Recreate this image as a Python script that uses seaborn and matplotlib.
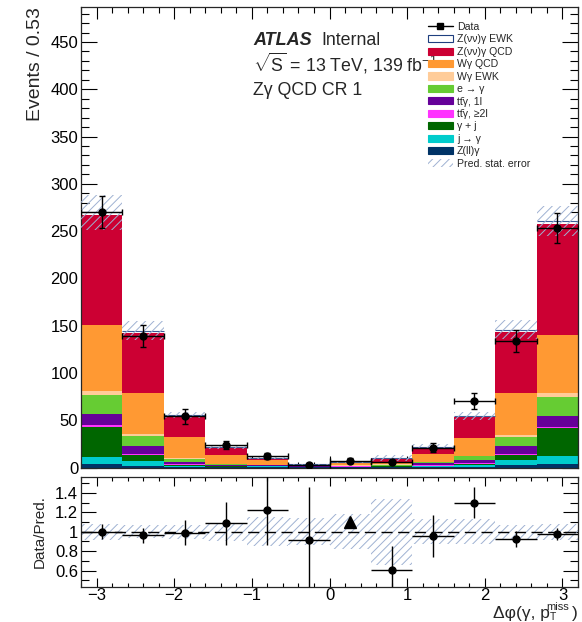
import numpy as np
import pandas as pd
import matplotlib
matplotlib.use("Agg")
import matplotlib.pyplot as plt
from matplotlib.patches import Patch
from matplotlib.lines import Line2D
from matplotlib.ticker import MultipleLocator, FixedLocator, FuncFormatter
import seaborn as sns

# ---------------- data ----------------
bin_edges = [-3.2, -2.6667, -2.1333, -1.6, -1.0667, -0.5333, 0.0,
             0.5333, 1.0667, 1.6, 2.1333, 2.6667, 3.2]

zvv_ewk = [2.8, 2.1, 1.0, 0.3, 0.0, 0.0, 0.2, 0.2, 0.5, 0.8, 2.1, 3.9]
zvv_qcd = [116.3, 64.1, 22.6, 8.2, 1.9, 0.4, 1.3, 3.3, 7.2, 22.9, 65.2, 117.0]
wg_qcd = [69.7, 43.0, 21.9, 9.3, 5.0, 1.0, 2.5, 3.0, 8.2, 18.5, 44.0, 61.6]
wg_ewk = [4.6, 2.1, 0.5, 0.3, 0.2, 0.1, 0.2, 0.2, 0.3, 0.5, 2.5, 4.2]
e_to_g = [19.7, 10.6, 3.5, 1.0, 0.5, 0.3, 0.4, 1.0, 1.5, 4.0, 9.2, 19.7]
ttg_1l = [11.7, 8.4, 2.2, 1.2, 0.8, 0.6, 0.6, 0.6, 1.8, 3.5, 8.4, 11.3]
ttg_2l = [2.4, 1.1, 0.8, 0.3, 0.2, 0.2, 0.2, 0.2, 0.4, 0.5, 1.4, 1.8]
g_jet = [31.0, 6.3, 1.0, 0.5, 0.3, 0.2, 0.3, 0.4, 0.8, 1.5, 5.0, 28.9]
j_to_g = [8.2, 4.9, 1.2, 0.5, 0.8, 0.3, 0.4, 0.6, 0.8, 1.5, 4.9, 9.2]
zllg = [3.3, 2.0, 0.8, 0.4, 0.3, 0.2, 0.2, 0.3, 0.5, 0.8, 3.0, 3.3]

data = [270, 139, 54, 24, 12, 3, 7, 6, 21, 70, 134, 253]
data_err = [17, 12, 7.5, 4.5, 3.4, 1.7, 2.6, 2.4, 4.4, 8.5, 11.5, 16]
stat_err = [19, 10, 3, 2, 1.5, 0.5, 1.1, 3.3, 2.8, 4.5, 10, 16]

ratio = [1.0, 0.962, 0.99, 1.086, 1.223, 0.914, 1.10, 0.605, 0.955, 1.30, 0.924, 0.976]
ratio_err = [0.075, 0.08, 0.13, 0.22, 0.36, 0.55, 0.0, 0.25, 0.22, 0.16, 0.08, 0.06]
ratio_band = [0.08, 0.065, 0.07, 0.095, 0.15, 0.14, 0.18, 0.34, 0.13, 0.13, 0.07, 0.08]
ratio_triangle = [False, False, False, False, False, False, True,
                  False, False, False, False, False]

labels = ["Z(νν)γ EWK", "Z(νν)γ QCD", "Wγ QCD", "Wγ EWK", "e → γ",
          "tt̄γ, 1l", "tt̄γ, ≥2l", "γ + j", "j → γ", "Z(ll)γ"]
series = [zvv_ewk, zvv_qcd, wg_qcd, wg_ewk, e_to_g, ttg_1l, ttg_2l, g_jet, j_to_g, zllg]
colors = ["#ffffff", "#cc0033", "#ff9933", "#ffcc99", "#66cc33",
          "#660099", "#ff33ff", "#006600", "#00cccc", "#003366"]

x_ticks = [-3, -2, -1, 0, 1, 2, 3]
y_ticks = [0, 50, 100, 150, 200, 250, 300, 350, 400, 450]
r_ticks = [0.6, 0.8, 1.0, 1.2, 1.4]

# ---------------- style ----------------
sns.set_theme(style="ticks")
plt.rcParams["font.family"] = ["Liberation Sans", "DejaVu Sans"]
plt.rcParams["mathtext.fontset"] = "custom"
plt.rcParams["mathtext.rm"] = "Liberation Sans"
plt.rcParams["mathtext.it"] = "Liberation Sans:italic"
plt.rcParams["mathtext.bf"] = "Liberation Sans:bold"
plt.rcParams["hatch.linewidth"] = 0.7
plt.rcParams["axes.linewidth"] = 0.9

hatch_col = "#9fb1d2"

edges = np.array(bin_edges)
centers = 0.5 * (edges[:-1] + edges[1:])
widths = np.diff(edges)

rows = []
for lab, vals in zip(labels, series):
    for c, v in zip(centers, vals):
        rows.append({"phi": float(c), "process": lab, "events": float(v)})
df = pd.DataFrame(rows)

W, H = 582, 622
fig = plt.figure(figsize=(W / 100, H / 100), dpi=100)
ax = fig.add_axes([81 / W, 1 - 467.5 / H, 497 / W, (467.5 - 7) / H])
rax = fig.add_axes([81 / W, 1 - 587 / H, 497 / W, (587 - 477) / H])

# stacked histogram (first hue level on top)
sns.histplot(data=df, x="phi", weights="events", hue="process",
             hue_order=labels, palette=dict(zip(labels, colors)),
             multiple="stack", bins=list(bin_edges), element="bars", alpha=1,
             linewidth=0, legend=False, ax=ax)

total = np.sum(np.array(series), axis=0)
ax.hlines(total, edges[:-1], edges[1:], color="#3d5f99", lw=0.8, zorder=3)

# stat error band
ax.bar(centers, 2 * np.array(stat_err), bottom=total - np.array(stat_err),
       width=widths, fill=False, hatch="////", edgecolor=hatch_col, lw=0, zorder=4)

# data
ax.errorbar(centers, data, yerr=data_err, xerr=widths / 2, fmt="o", color="black",
            ms=5, capsize=2, elinewidth=1, capthick=1, zorder=5)

ax.set_xlim(-3.2, 3.2)
ax.set_ylim(0, 487)
ax.set_xlabel("")
ax.set_ylabel("")
ax.xaxis.set_major_locator(FixedLocator(x_ticks))
ax.xaxis.set_minor_locator(MultipleLocator(0.2))
ax.yaxis.set_major_locator(FixedLocator(y_ticks))
ax.yaxis.set_minor_locator(MultipleLocator(10))
ax.tick_params(axis="both", which="both", direction="in", top=True, right=True,
               width=0.8, colors="black")
ax.tick_params(axis="x", which="major", length=8.5, labelbottom=False)
ax.tick_params(axis="x", which="minor", length=4.3)
ax.tick_params(axis="y", which="major", length=11.5, labelsize=12, pad=2)
ax.tick_params(axis="y", which="minor", length=5.8)

# ratio panel
rax.bar(centers, 2 * np.array(ratio_band), bottom=1 - np.array(ratio_band),
        width=widths, fill=False, hatch="////", edgecolor=hatch_col, lw=0, zorder=1)
rax.axhline(1, color="black", lw=1, ls=(0, (8, 4)), zorder=2)
tri = np.array(ratio_triangle)
rx = centers[~tri]
rax.errorbar(rx, np.array(ratio)[~tri], yerr=np.array(ratio_err)[~tri],
             xerr=widths[~tri] / 2, fmt="o", color="black", ms=5, capsize=0,
             elinewidth=1, zorder=4)
rax.plot(centers[tri], np.array(ratio)[tri], marker="^", ls="none", color="black",
         ms=9, zorder=4)
rax.set_xlim(-3.2, 3.2)
rax.set_ylim(0.43, 1.565)
rax.xaxis.set_major_locator(FixedLocator(x_ticks))
rax.xaxis.set_minor_locator(MultipleLocator(0.2))
rax.yaxis.set_major_locator(FixedLocator(r_ticks))
rax.yaxis.set_minor_locator(MultipleLocator(0.1))
rax.yaxis.set_major_formatter(FuncFormatter(lambda v, p: f"{v:g}"))
rax.tick_params(axis="both", which="both", direction="in", top=True, right=True,
                width=0.8, colors="black")
rax.tick_params(axis="x", which="major", length=6.5, labelsize=12, pad=0.5)
rax.tick_params(axis="x", which="minor", length=3.2)
rax.tick_params(axis="y", which="major", length=11, labelsize=12, pad=2)
rax.tick_params(axis="y", which="minor", length=5.8)
rax.set_xlabel("")
rax.set_ylabel("")

# axis titles
fig.text(35 / W, 1 - 7 / H, "Events / 0.53", rotation=90, ha="center", va="top",
         fontsize=14)
fig.text(40 / W, 1 - 532 / H, "Data/Pred.", rotation=90, ha="center", va="center",
         fontsize=11)
# x title: Δφ(γ, p_T^miss) built from pieces so the sub/superscripts sit like the original
fig.text(577.5 / W, 1 - 618 / H, ")", ha="right", va="baseline", fontsize=12.5)
fig.text(569 / W, 1 - 610 / H, "miss", ha="right", va="baseline", fontsize=8)
fig.text(550 / W, 1 - 620.5 / H, "T", ha="left", va="baseline", fontsize=7.5)
fig.text(550 / W, 1 - 618 / H, "Δφ(γ, p", ha="right", va="baseline", fontsize=12.5)

fig.text(253 / W, 1 - 45 / H, "ATLAS", fontweight="bold", fontstyle="italic",
         fontsize=13, va="baseline")
fig.text(321 / W, 1 - 45 / H, "Internal", fontsize=12.8, va="baseline")
fig.text(253 / W, 1 - 71.5 / H, r"$\sqrt{\mathregular{S}}$ = 13 TeV, 139 fb$^{\mathregular{-1}}$",
         fontsize=12.8, va="baseline")
fig.text(253 / W, 1 - 95 / H, "Zγ QCD CR 1", fontsize=12.8, va="baseline")

# legend
handles = [Line2D([0], [0], color="black", marker="s", ms=4, lw=1)]
leg_labels = ["Data"]
for lab, col in zip(labels, colors):
    ec = "#1f3f7f" if col == "#ffffff" else col
    handles.append(Patch(facecolor=col, edgecolor=ec, lw=0.8))
    leg_labels.append(lab)
handles.append(Patch(facecolor="none", edgecolor=hatch_col, hatch="////", lw=0))
leg_labels.append("Pred. stat. error")
fig.legend(handles, leg_labels, loc="upper left",
           bbox_to_anchor=(428 / W, 1 - 22 / H), bbox_transform=fig.transFigure,
           frameon=False, fontsize=7.6, borderpad=0, borderaxespad=0,
           handlelength=2.35, handleheight=0.65, handletextpad=0.4,
           labelspacing=0.23)

fig.savefig("out.png", dpi=100)
